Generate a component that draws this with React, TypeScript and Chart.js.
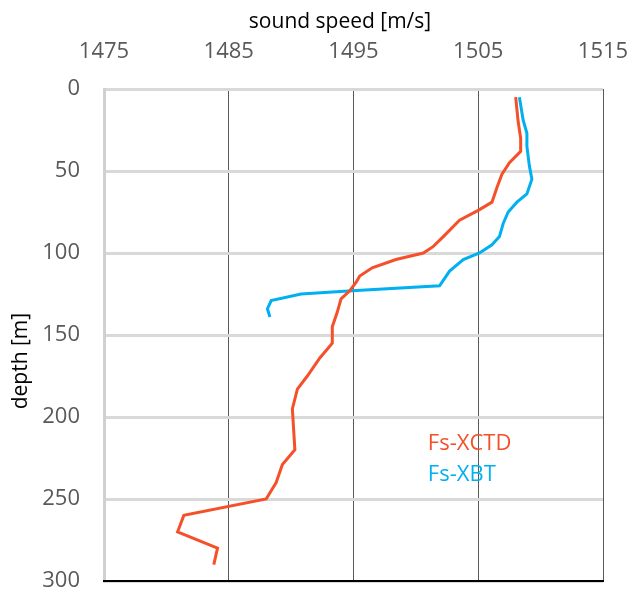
import React, { useEffect, useRef } from "react";
import { Chart, registerables } from "chart.js";

Chart.register(...registerables);

const xctdDepth = [5, 20, 30, 38, 45, 52, 60, 69, 74, 80, 90, 96, 100, 104, 109, 114, 118, 123, 128, 136, 145, 155, 164, 175, 183, 195, 220, 229, 240, 250, 260, 270, 280, 290];
const xctdSpeed = [1508.0, 1508.2, 1508.4, 1508.4, 1507.5, 1506.9, 1506.5, 1506.1, 1505.0, 1503.5, 1502.2, 1501.4, 1500.6, 1498.4, 1496.5, 1495.5, 1495.2, 1494.7, 1494.0, 1493.7, 1493.3, 1493.3, 1492.3, 1491.3, 1490.5, 1490.1, 1490.3, 1489.3, 1488.8, 1488.0, 1481.4, 1480.9, 1484.1, 1483.8];

const xbtDepth = [5, 19, 27, 35, 47, 55, 64, 69, 75, 82, 90, 95, 100, 104, 111, 120, 123, 125, 129, 134, 139];
const xbtSpeed = [1508.3, 1508.6, 1508.9, 1508.9, 1509.1, 1509.3, 1508.9, 1508.1, 1507.4, 1507.0, 1506.7, 1506.1, 1505.1, 1503.8, 1502.7, 1501.9, 1494.9, 1490.8, 1488.4, 1488.1, 1488.3];

const seriesNames = ["Fs-XCTD", "Fs-XBT"];
const seriesColors = ["#F4502A", "#00B0F0"];
const xTitle = "sound speed [m/s]";
const yTitle = "depth [m]";
const xMin = 1475, xMax = 1515, xStep = 10;
const yMin = 0, yMax = 300, yStep = 50;

const FONT = "'Open Sans', 'Noto Sans', sans-serif";

const overlayPlugin = {
  id: "overlay",
  afterDraw(chart: any) {
    const { ctx, chartArea } = chart;
    const w = chartArea.right - chartArea.left;
    const h = chartArea.bottom - chartArea.top;
    ctx.save();
    // bottom axis line
    ctx.strokeStyle = "#000000";
    ctx.lineWidth = 2;
    ctx.beginPath();
    ctx.moveTo(chartArea.left - 1, chartArea.bottom);
    ctx.lineTo(chartArea.right + 1, chartArea.bottom);
    ctx.stroke();
    // axis titles
    ctx.fillStyle = "#000000";
    ctx.font = `21px ${FONT}`;
    ctx.textAlign = "center";
    ctx.textBaseline = "middle";
    ctx.fillText(xTitle, chartArea.left + w * 0.473, 22);
    ctx.save();
    ctx.translate(21, chartArea.top + h * 0.553);
    ctx.rotate(-Math.PI / 2);
    ctx.fillText(yTitle, 0, 0);
    ctx.restore();
    // legend text inside plot
    ctx.font = `22px ${FONT}`;
    ctx.textBaseline = "middle";
    ctx.textAlign = "left";
    const lx = chartArea.left + w * 0.649;
    const ly0 = chartArea.top + h * 0.7205;
    chart.data.datasets.forEach((ds: any, i: number) => {
      ctx.fillStyle = ds.borderColor;
      ctx.fillText(ds.label, lx, ly0 + i * 31);
    });
    ctx.restore();
  },
};

export default function App() {
  const ref = useRef<HTMLCanvasElement | null>(null);
  useEffect(() => {
    if (!ref.current) return;
    const chart = new Chart(ref.current, {
      type: "scatter",
      data: {
        datasets: [
          {
            label: seriesNames[0],
            data: xctdDepth.map((d, i) => ({ x: xctdSpeed[i], y: d })),
            borderColor: seriesColors[0],
            backgroundColor: seriesColors[0],
            showLine: true,
            pointRadius: 0,
            borderWidth: 3,
            tension: 0,
          },
          {
            label: seriesNames[1],
            data: xbtDepth.map((d, i) => ({ x: xbtSpeed[i], y: d })),
            borderColor: seriesColors[1],
            backgroundColor: seriesColors[1],
            showLine: true,
            pointRadius: 0,
            borderWidth: 3,
            tension: 0,
          },
        ],
      },
      options: {
        animation: false,
        responsive: true,
        maintainAspectRatio: false,
        layout: { padding: { left: 0, top: 0, right: 27, bottom: 9 } },
        plugins: { legend: { display: false }, tooltip: { enabled: false } },
        scales: {
          x: {
            type: "linear",
            position: "top",
            min: xMin,
            max: xMax,
            ticks: {
              stepSize: xStep,
              padding: 24,
              color: "#595959",
              font: { family: FONT, size: 22 },
              maxRotation: 0,
              callback: (v: any) => String(v),
            },
            grid: {
              drawTicks: false,
              color: (c: any) => (c.tick && c.tick.value === xMin ? "rgba(0,0,0,0)" : "#595959"),
              lineWidth: 1,
            },
            border: { display: false },
            title: { display: false },
            afterFit: (s: any) => {
              s.height = 89;
              s.paddingLeft = 0;
              s.paddingRight = 0;
            },
          },
          y: {
            type: "linear",
            reverse: true,
            min: yMin,
            max: yMax,
            ticks: {
              stepSize: yStep,
              padding: 24,
              color: "#595959",
              font: { family: FONT, size: 22 },
            },
            grid: {
              drawTicks: false,
              color: "#D9D9D9",
              lineWidth: 3,
            },
            border: { display: true, color: "#D0D0D0", width: 3 },
            title: { display: false },
            afterFit: (s: any) => {
              s.width = 104;
              s.paddingTop = 0;
              s.paddingBottom = 0;
            },
          },
        },
      },
      plugins: [overlayPlugin],
    });
    return () => chart.destroy();
  }, []);
  return (
    <div style={{ position: "absolute", left: 0, top: 0, width: 630, height: 590 }}>
      <canvas ref={ref} />
    </div>
  );
}
